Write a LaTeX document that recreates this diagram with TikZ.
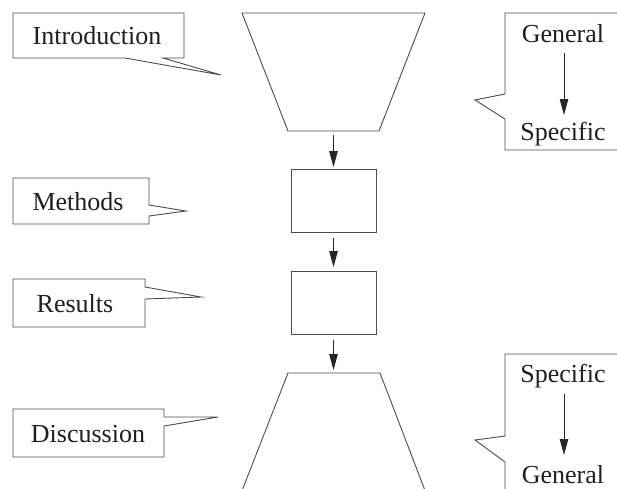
\documentclass[tikz,border=0pt]{standalone}
\usepackage{fontspec}
\setmainfont{Liberation Serif}
\usetikzlibrary{arrows.meta}
\begin{document}
\begin{tikzpicture}[x=1pt,y=-1pt,
  line/.style={draw=black!70, line width=0.9pt, line join=miter},
  lbl/.style={font=\fontsize{26}{28}\selectfont, text=black!88, inner sep=0pt},
  arr/.style={draw=black!85, line width=0.9pt, -{Triangle[length=16pt,width=8.5pt]}},
  boxn/.style={line, minimum width=85pt, minimum height=63pt, inner sep=0pt}]
\useasboundingbox (0,0) rectangle (617,488);
% left callouts
\draw[line] (13,13) -- (184,13) -- (184,58) -- (163,58) -- (221,75) -- (125,58) -- (13,58) -- cycle;
\node[lbl] (intro) at (97,36) {Introduction};
\draw[line] (13,178) -- (149,178) -- (149,205) -- (186,211) -- (149,216) -- (149,224) -- (13,224) -- cycle;
\node[lbl] (meth) at (78,202) {Methods};
\draw[line] (13,279) -- (145,279) -- (145,287) -- (201,297) -- (145,299) -- (145,327) -- (13,327) -- cycle;
\node[lbl] (res) at (75,304) {Results};
\draw[line] (13,409) -- (164,409) -- (164,417) -- (218,417) -- (164,426) -- (164,457) -- (13,457) -- cycle;
\node[lbl] (disc) at (88,434) {Discussion};
% centre column
\coordinate (tA) at (242,13); \coordinate (tB) at (425,13);
\coordinate (tC) at (379,131); \coordinate (tD) at (288,131);
\draw[line] (tA) -- (tB) -- (tC) -- (tD) -- cycle;
\coordinate (tbot) at (333.5,131);
\node[boxn] (mbox) at (333.5,201) {};
\node[boxn] (rbox) at (333.5,303) {};
\coordinate (bA) at (288,373); \coordinate (bB) at (380,373);
\draw[line] (240.3,495) -- (bA) -- (bB) -- (426.7,495);
\coordinate (btop) at (333.5,373);
\draw[arr, shorten <=4pt, shorten >=2pt] (tbot) -- (mbox.north);
\draw[arr, shorten <=5pt, shorten >=4pt] (mbox.south) -- (rbox.north);
\draw[arr, shorten <=5pt, shorten >=3pt] (rbox.south) -- (btop);
% right callouts
\draw[line] (622,13) -- (505,13) -- (505,94) -- (475,100) -- (505,119) -- (505,150) -- (622,150);
\node[lbl] (gen1) at (563,34) {General};
\node[lbl] (spec1) at (563,134) {Specific};
\coordinate (a1s) at (564,53);
\coordinate (a1e) at (564,115);
\draw[arr] (a1s) -- (a1e);
\draw[line] (622,354) -- (505,354) -- (505,436) -- (475,440) -- (505,462) -- (505,495);
\node[lbl] (spec2) at (563,376) {Specific};
\node[lbl, anchor=base] (gen2) at (563,483) {General};
\coordinate (a2s) at (564,394);
\coordinate (a2e) at (564,455);
\draw[arr] (a2s) -- (a2e);
\end{tikzpicture}
\end{document}
